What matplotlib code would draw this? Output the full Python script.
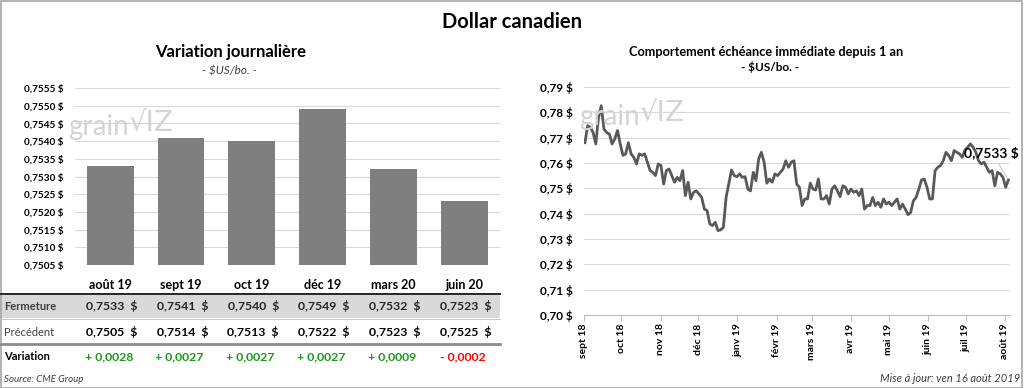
import numpy as np
import pandas as pd
import matplotlib
matplotlib.use("Agg")
import matplotlib.pyplot as plt
from matplotlib.patches import Rectangle
from matplotlib.lines import Line2D

plt.rcParams['font.family'] = ['Lato', 'DejaVu Sans']

# ---- données ----
contrats = ['août 19', 'sept 19', 'oct 19', 'déc 19', 'mars 20', 'juin 20']
fermeture = [0.7533, 0.7541, 0.7540, 0.7549, 0.7532, 0.7523]
precedent = [0.7505, 0.7514, 0.7513, 0.7522, 0.7523, 0.7525]

# échéance immédiate (environ tous les 2 jours)
prix = [
    0.7680, 0.7747, 0.7740, 0.7720, 0.7675, 0.7780, 0.7826, 0.7734, 0.7720, 0.7714,
    0.7675, 0.7695, 0.7728, 0.7675, 0.7630, 0.7636, 0.7680, 0.7636, 0.7622, 0.7596,
    0.7636, 0.7630, 0.7636, 0.7603, 0.7570, 0.7563, 0.7550, 0.7596, 0.7590, 0.7517,
    0.7570, 0.7576, 0.7550, 0.7524, 0.7543, 0.7530, 0.7570, 0.7471, 0.7524, 0.7458,
    0.7484, 0.7490, 0.7478, 0.7464, 0.7418, 0.7412, 0.7359, 0.7353, 0.7366, 0.7333,
    0.7336, 0.7346,
    0.7464, 0.7517, 0.7572, 0.7550, 0.7546, 0.7557, 0.7543, 0.7546, 0.7497, 0.7490,
    0.7563, 0.7530, 0.7616, 0.7642, 0.7603, 0.7520, 0.7537, 0.7524, 0.7557, 0.7550,
    0.7563, 0.7576, 0.7609, 0.7583, 0.7603, 0.7609, 0.7517, 0.7504, 0.7432, 0.7458,
    0.7458, 0.7520, 0.7497, 0.7493, 0.7537, 0.7458, 0.7458, 0.7471, 0.7438, 0.7497,
    0.7510, 0.7490, 0.7467, 0.7510, 0.7504, 0.7478, 0.7497, 0.7484, 0.7490, 0.7471,
    0.7497,
    0.7418, 0.7432, 0.7432, 0.7464, 0.7432, 0.7445, 0.7425, 0.7458, 0.7438, 0.7445,
    0.7432, 0.7445, 0.7458, 0.7418, 0.7438, 0.7418, 0.7396, 0.7405, 0.7451, 0.7464,
    0.7497, 0.7533, 0.7537, 0.7504, 0.7458, 0.7458, 0.7570, 0.7583, 0.7590, 0.7609,
    0.7642, 0.7629, 0.7609, 0.7649, 0.7642, 0.7636, 0.7622, 0.7651, 0.7662, 0.7675,
    0.7662, 0.7642, 0.7609, 0.7596, 0.7603, 0.7583, 0.7563, 0.7570, 0.7510, 0.7563,
    0.7557, 0.7543, 0.7504, 0.7533,
]
dates = pd.date_range('2018-09-14', '2019-08-16', periods=len(prix))
mois = ['sept 18', 'oct 18', 'nov 18', 'déc 18', 'janv 19', 'févr 19',
        'mars 19', 'avr 19', 'mai 19', 'juin 19', 'juil 19', 'août 19']
mois_pos = pd.date_range('2018-09-13', periods=12, freq=pd.DateOffset(months=1))

def fr(v, d):
    return f"{v:.{d}f}".replace('.', ',')

def fy(py):
    return 1 - py / 388

grid_c = '#d9d9d9'
bar_c = '#7f7f7f'
line_c = '#595959'

fig = plt.figure(figsize=(10.24, 3.88), dpi=100)
fig.patch.set_facecolor('white')
fig.add_artist(Rectangle((0.0005, 0.001), 0.998, 0.997, transform=fig.transFigure,
                         fill=False, edgecolor='#a6a6a6', lw=1.2))

fig.text(0.5, 0.943, 'Dollar canadien', ha='center', va='center',
         fontsize=14.5, fontweight='bold')

# ---- barres ----
ax1 = fig.add_axes([0.073, 0.317, 0.415, 0.456])
x = np.arange(len(contrats))
ax1.bar(x, np.array(fermeture) - 0.7505, bottom=0.7505, width=0.66,
        color=bar_c, zorder=3)
ax1.set_xlim(-0.5, len(contrats) - 0.5)
ax1.set_ylim(0.7505, 0.7555)
yt = np.arange(0.7505, 0.75551, 0.0005)
ax1.set_yticks(yt)
ax1.set_yticklabels([fr(v, 4) + ' $' for v in yt], fontsize=7.2, fontweight='bold')
ax1.set_xticks(x)
ax1.set_xticklabels(contrats, fontsize=9, fontweight='bold')
ax1.tick_params(axis='x', length=0, pad=10)
ax1.tick_params(axis='y', length=0, pad=8)
ax1.grid(axis='y', color=grid_c, lw=0.8, zorder=0)
for s in ax1.spines.values():
    s.set_visible(False)

fig.text(0.2256, 0.866, 'Variation journalière', ha='center', va='center',
         fontsize=12, fontweight='bold')
fig.text(0.2236, 0.817, '- $US/bo. -', ha='center', va='center',
         fontsize=8.5, style='italic', color='#404040')

# watermark
for xx, yy in [(0.067, 0.672), (0.566, 0.698)]:
    fig.text(xx, yy, 'grain', fontsize=20, color='#d4d4d4', va='center', zorder=0)
    fig.text(xx + 0.058, yy + 0.012, '\u221aIZ', fontsize=20, color='#d4d4d4',
             va='center', family='DejaVu Sans', zorder=0)

# ---- tableau ----
tr = ax1.get_xaxis_transform()
pos = ax1.get_position()

def ay(py):
    return (fy(py) - pos.y0) / pos.height

fig.add_artist(Rectangle((0.0, fy(318)), 0.488, fy(294) - fy(318),
                         transform=fig.transFigure, facecolor='#d9d9d9',
                         edgecolor='none', zorder=0))
fig.add_artist(Line2D([0.0, 0.488], [fy(293.5)] * 2, transform=fig.transFigure,
                      color='#262626', lw=1.4))
fig.add_artist(Line2D([0.0, 0.488], [fy(318.5)] * 2, transform=fig.transFigure,
                      color='#bfbfbf', lw=0.6))
fig.add_artist(Line2D([0.0, 0.488], [fy(344)] * 2, transform=fig.transFigure,
                      color='#8c8c8c', lw=2.0))

fig.text(0.004, fy(306), 'Fermeture', fontsize=8, va='center', color='#404040',
         fontweight='bold')
fig.text(0.004, fy(332), 'Précédent', fontsize=8, va='center', color='#404040')
fig.text(0.004, fy(357), 'Variation', fontsize=8, va='center', fontweight='bold')

for i in range(len(contrats)):
    ax1.text(i + 0.02, ay(306), fr(fermeture[i], 4) + '  $',
             transform=tr, ha='center', va='center', fontsize=8.8,
             fontweight='bold', color='#262626', clip_on=False)
    ax1.text(i + 0.02, ay(332), fr(precedent[i], 4) + '  $',
             transform=tr, ha='center', va='center', fontsize=8.8,
             fontweight='bold', color='#000000', clip_on=False)
    var = round(fermeture[i] - precedent[i], 4)
    txt = ('+ ' if var >= 0 else '- ') + fr(abs(var), 4)
    ax1.text(i - 0.02, ay(357), txt, transform=tr,
             ha='center', va='center', fontsize=8.8, fontweight='bold',
             color='#1a9a1a' if var >= 0 else '#ff0000', clip_on=False)

fig.text(0.004, fy(379), 'Source: CME Group', fontsize=7, style='italic',
         va='center', color='#404040')

# ---- ligne ----
ax2 = fig.add_axes([0.570, 0.188, 0.416, 0.588])
ax2.plot(dates, prix, color=line_c, lw=2.0, zorder=3)
ax2.set_ylim(0.70, 0.79)
ax2.set_xlim(pd.Timestamp('2018-09-13'), pd.Timestamp('2019-08-17'))
yt2 = np.arange(0.70, 0.7901, 0.01)
ax2.set_yticks(yt2)
ax2.set_yticklabels([fr(v, 2) + ' $' for v in yt2], fontsize=8.5, fontweight='bold')
ax2.set_xticks(mois_pos)
ax2.set_xticklabels(mois, rotation=90, fontsize=7.5, fontweight='bold')
ax2.tick_params(axis='y', length=0, pad=8)
ax2.tick_params(axis='x', length=4, color='#bfbfbf', pad=2)
ax2.grid(axis='y', color=grid_c, lw=0.8, zorder=0)
for k, s in ax2.spines.items():
    s.set_visible(k == 'bottom')
ax2.spines['bottom'].set_color('#bfbfbf')

ax2.annotate(fr(prix[-1], 4) + ' $', xy=(dates[-1], prix[-1]),
             xytext=(-12, 20), textcoords='offset points', ha='center',
             va='center', fontsize=10, fontweight='bold',
             arrowprops=dict(arrowstyle='-', color='#bfbfbf', lw=0.6),
             annotation_clip=False)

fig.text(0.748, 0.866, 'Comportement échéance immédiate depuis 1 an',
         ha='center', va='center', fontsize=9.2, fontweight='bold')
fig.text(0.752, 0.827, '- $US/bo. -', ha='center', va='center', fontsize=8.5,
         fontweight='bold')

fig.text(0.996, fy(379), 'Mise à jour: ven 16 août 2019', fontsize=8,
         style='italic', ha='right', va='center', color='#404040')

fig.savefig('out.png', dpi=100)
